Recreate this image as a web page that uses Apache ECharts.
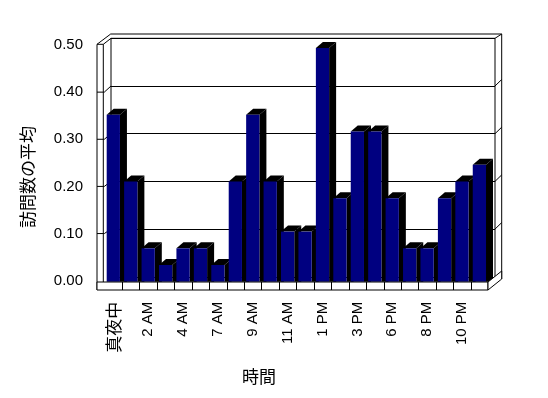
<!DOCTYPE html>
<html>
<head>
<meta charset="utf-8">
<script src="https://cdn.jsdelivr.net/npm/echarts@6/dist/echarts.min.js"></script>
<style>
  html, body { margin: 0; padding: 0; background: #fff; }
  #chart { width: 548px; height: 398px; }
</style>
</head>
<body>
<div id="chart"></div>
<script>
// 時間帯ごとの訪問数の平均
var hours = ['真夜中', '1 AM', '2 AM', '3 AM', '4 AM', '5 AM', '7 AM', '8 AM', '9 AM', '10 AM', '11 AM',
             '12 PM', '1 PM', '2 PM', '3 PM', '4 PM', '6 PM', '7 PM', '8 PM', '9 PM', '10 PM', '11 PM'];
var visits = [0.35, 0.21, 0.07, 0.035, 0.07, 0.07, 0.035, 0.21, 0.35, 0.21, 0.105,
              0.105, 0.49, 0.175, 0.315, 0.315, 0.175, 0.07, 0.07, 0.175, 0.21, 0.245];
var yTicks = [0, 0.1, 0.2, 0.3, 0.4, 0.5];

var NAVY = '#000080';
var latin = 'Liberation Sans, Arial, sans-serif';
var jp = 'Noto Sans CJK JP, sans-serif';

var chart = echarts.init(document.getElementById('chart'));

chart.setOption({
  animation: false,
  backgroundColor: '#fff',
  grid: [
    // 奥の壁（目盛線）
    { left: 111, top: 38.3, width: 384, height: 238.5 },
    // 棒
    { left: 104.6, top: 43.2, width: 383.5, bottom: 116.3 },
    // 左の数値軸
    { left: 97, top: 45, width: 6, bottom: 117.3 }
  ],
  xAxis: [
    { gridIndex: 0, type: 'category', data: hours, show: false },
    {
      gridIndex: 1, type: 'category', data: hours,
      axisLine: { show: false }, axisTick: { show: false },
      axisLabel: {
        interval: 1, rotate: 90, margin: 20, color: '#000',
        fontFamily: latin, fontSize: 15,
        formatter: function (v) {
          return /[^\x00-\x7F]/.test(v) ? '{jp|' + v + '}' : v;
        },
        rich: { jp: { fontFamily: jp, fontSize: 17, color: '#000' } }
      }
    },
    { gridIndex: 2, type: 'value', show: false }
  ],
  yAxis: [
    {
      gridIndex: 0, min: 0, max: 0.5, interval: 0.1,
      axisLine: { show: false }, axisTick: { show: false }, axisLabel: { show: false },
      splitLine: { lineStyle: { color: '#000', width: 1 } }
    },
    { gridIndex: 1, min: 0, max: 0.5, interval: 0.1, show: false },
    {
      gridIndex: 2, min: 0, max: 0.5, interval: 0.1,
      axisLine: { show: false }, axisTick: { show: false }, splitLine: { show: false },
      axisLabel: {
        margin: 14, color: '#000', fontFamily: latin, fontSize: 15,
        formatter: function (v) { return v.toFixed(2); }
      }
    }
  ],
  series: [{
    type: 'custom',
    xAxisIndex: 1, yAxisIndex: 1,
    data: visits.map(function (v, i) { return [i, v]; }),
    z: 5,
    renderItem: function (params, api) {
      var top = api.coord([api.value(0), api.value(1)]);
      var base = api.coord([api.value(0), 0]);
      var bw = api.size([1, 0])[0] * 0.76;
      var l = top[0] - bw / 2, r = top[0] + bw / 2, t = top[1], b = base[1];
      var dx = 7, dy = -6;
      return {
        type: 'group',
        children: [
          { type: 'polygon', shape: { points: [[r, b], [r, t], [r + dx, t + dy], [r + dx, b]] },
            style: { fill: '#000' } },
          { type: 'polygon', shape: { points: [[l, t], [l + dx, t + dy], [r + dx, t + dy], [r, t]] },
            style: { fill: '#000' } },
          { type: 'rect', shape: { x: l, y: t, width: bw, height: b - t },
            style: { fill: NAVY } }
        ]
      };
    }
  }]
});

// 壁と床の枠線
function frame() {
  var els = [];
  var line = function (pts, z) {
    els.push({ type: 'polyline', z: z || 1, silent: true,
      shape: { points: pts }, style: { stroke: '#000', lineWidth: 1, fill: null } });
  };
  var fl = 97, il = 103.3, bl = 111, br = 495, or = 501.7;
  var topO = 34, topI = 38.3, wallTop = 44.3, floorTop = 282, floorBot = 290, floorR = 488;

  line([[fl, floorBot], [fl, wallTop], [bl - 0.3, topO], [or, topO], [or, 279]]);
  line([[il, floorTop], [il, wallTop], [bl, topI], [br, topI], [br, 279]]);
  line([[fl, wallTop], [il, wallTop]]);
  line([[bl, topI], [bl, 277]]);
  line([[br, topI], [or, topO]]);

  yTicks.forEach(function (v) {
    var yf = chart.convertToPixel({ yAxisIndex: 2 }, v);
    var yb = chart.convertToPixel({ yAxisIndex: 0 }, v);
    if (v > 0 && v < 0.5) {
      line([[fl, yf], [il + 1, yf], [bl, yb]]);
      line([[br, yb], [or, yb - 6.5]]);
    }
  });

  // 床
  els.push({ type: 'rect', z: 10, silent: true,
    shape: { x: fl, y: floorTop, width: floorR - fl, height: floorBot - floorTop },
    style: { fill: '#fff', stroke: '#000', lineWidth: 1 } });
  els.push({ type: 'polygon', z: 10, silent: true,
    shape: { points: [[floorR, floorTop], [floorR, floorBot], [or, floorBot - 11], [or, floorTop - 11]] },
    style: { fill: '#fff', stroke: '#000', lineWidth: 1 } });
  var band = chart.convertToPixel({ xAxisIndex: 1 }, 1) - chart.convertToPixel({ xAxisIndex: 1 }, 0);
  for (var k = 1; k < hours.length; k++) {
    var x = Math.round(chart.convertToPixel({ xAxisIndex: 1 }, k) - band / 2) + 0.5;
    line([[x, floorTop], [x, floorBot]], 11);
  }

  els.push({ type: 'text', x: 28, y: 177, rotation: Math.PI / 2, silent: true,
    style: { text: '訪問数の平均', font: '17px ' + jp, fill: '#000', align: 'center', verticalAlign: 'middle' } });
  els.push({ type: 'text', x: 259, y: 377, silent: true,
    style: { text: '時間', font: '17px ' + jp, fill: '#000', align: 'center', verticalAlign: 'middle' } });
  return els;
}

chart.setOption({ graphic: frame() });
</script>
</body>
</html>
